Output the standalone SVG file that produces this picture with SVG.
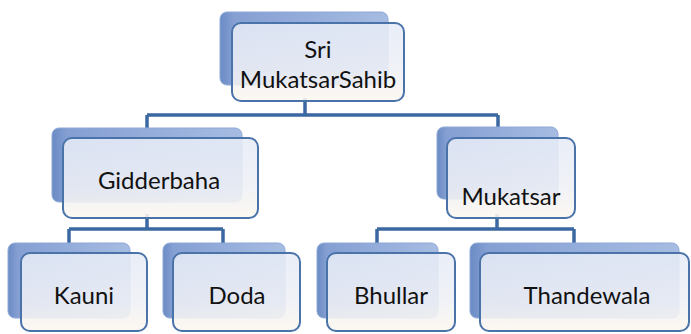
<svg xmlns="http://www.w3.org/2000/svg" width="691" height="334" viewBox="0 0 691 334">
<defs>
<linearGradient id="gBack" x1="0" y1="0" x2="1" y2="0">
<stop offset="0" stop-color="#6a8bc4"/>
<stop offset="0.08" stop-color="#859fd3"/>
<stop offset="1" stop-color="#a6bce2"/>
</linearGradient>
<linearGradient id="gFront" x1="0" y1="0" x2="0" y2="1">
<stop offset="0" stop-color="#e6ebf6"/>
<stop offset="0.6" stop-color="#eef0f6"/>
<stop offset="1" stop-color="#fcf7ef"/>
</linearGradient>
</defs>
<style>
.back{fill:url(#gBack);stroke:#8ea8d6;stroke-width:1}
.front{fill:url(#gFront);fill-opacity:0.88;stroke:#4a73aa;stroke-width:2}
.lbl{font-family:Lato,"Liberation Sans",sans-serif;font-size:24px;fill:#111;text-anchor:middle}
.conn{fill:none;stroke:#3c68a2;stroke-width:3.5}
</style>
<rect width="691" height="334" fill="#ffffff"/>
<g id="connectors">
<path class="conn" d="M305 98V115M147 115H498M147 115V128M498 115V127"/>
<path class="conn" d="M147 214V229M69 229H223M69 229V243M223 229V243"/>
<path class="conn" d="M497 214V229M377 229H574M377 229V243M574 229V243"/>
</g>
<g id="n-sri">
<rect class="back" x="220" y="12" width="168" height="73" rx="7"/>
<rect class="front" x="232" y="23" width="172" height="78" rx="9"/>
<text class="lbl" x="318" y="58">Sri</text>
<text class="lbl" x="318" y="88">MukatsarSahib</text>
</g>
<g id="n-gidderbaha">
<rect class="back" x="52" y="128" width="190" height="74" rx="7"/>
<rect class="front" x="63" y="138" width="195" height="80" rx="9"/>
<text class="lbl" x="159" y="189">Gidderbaha</text>
</g>
<g id="n-mukatsar">
<rect class="back" x="437" y="127" width="121" height="72" rx="7"/>
<rect class="front" x="447" y="138" width="128" height="80" rx="9"/>
<text class="lbl" x="511" y="205">Mukatsar</text>
</g>
<g id="n-kauni">
<rect class="back" x="8" y="243" width="122" height="75" rx="7"/>
<rect class="front" x="21" y="253" width="126" height="78" rx="9"/>
<text class="lbl" x="84" y="304">Kauni</text>
</g>
<g id="n-doda">
<rect class="back" x="163" y="243" width="122" height="75" rx="7"/>
<rect class="front" x="173" y="253" width="127" height="78" rx="9"/>
<text class="lbl" x="237" y="304">Doda</text>
</g>
<g id="n-bhullar">
<rect class="back" x="317" y="243" width="121" height="75" rx="7"/>
<rect class="front" x="327" y="253" width="128" height="78" rx="9"/>
<text class="lbl" x="391" y="304">Bhullar</text>
</g>
<g id="n-thandewala">
<rect class="back" x="470" y="243" width="209" height="75" rx="7"/>
<rect class="front" x="480" y="253" width="209" height="78" rx="9"/>
<text class="lbl" x="587" y="304">Thandewala</text>
</g>
</svg>
